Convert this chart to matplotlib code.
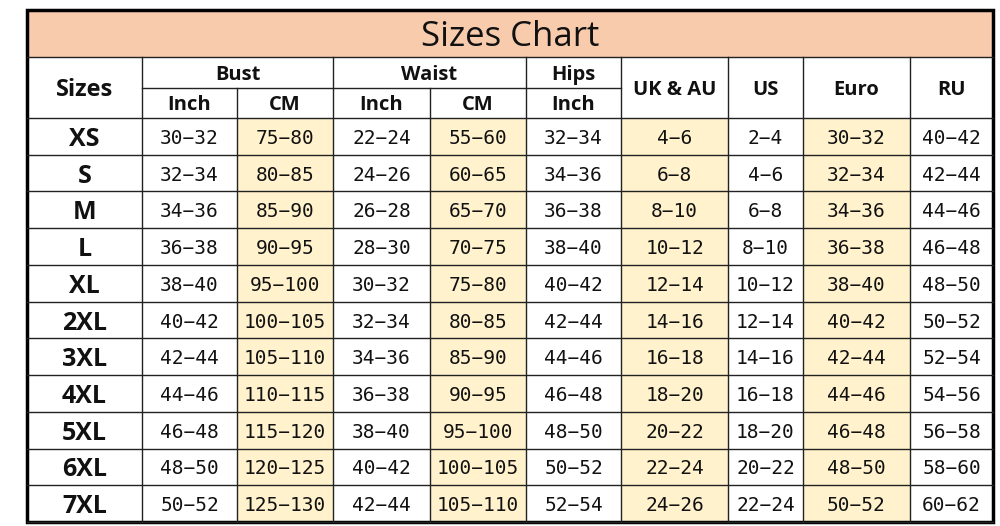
import matplotlib
matplotlib.use("Agg")
import matplotlib.pyplot as plt
from matplotlib.patches import Rectangle

title = "Sizes Chart"
sizes = ["XS", "S", "M", "L", "XL", "2XL", "3XL", "4XL", "5XL", "6XL", "7XL"]
bust_inch = ["30-32", "32-34", "34-36", "36-38", "38-40", "40-42", "42-44", "44-46", "46-48", "48-50", "50-52"]
bust_cm = ["75-80", "80-85", "85-90", "90-95", "95-100", "100-105", "105-110", "110-115", "115-120", "120-125", "125-130"]
waist_inch = ["22-24", "24-26", "26-28", "28-30", "30-32", "32-34", "34-36", "36-38", "38-40", "40-42", "42-44"]
waist_cm = ["55-60", "60-65", "65-70", "70-75", "75-80", "80-85", "85-90", "90-95", "95-100", "100-105", "105-110"]
hips_inch = ["32-34", "34-36", "36-38", "38-40", "40-42", "42-44", "44-46", "46-48", "48-50", "50-52", "52-54"]
uk_au = ["4-6", "6-8", "8-10", "10-12", "12-14", "14-16", "16-18", "18-20", "20-22", "22-24", "24-26"]
us = ["2-4", "4-6", "6-8", "8-10", "10-12", "12-14", "14-16", "16-18", "18-20", "20-22", "22-24"]
euro = ["30-32", "32-34", "34-36", "36-38", "38-40", "40-42", "42-44", "44-46", "46-48", "48-50", "50-52"]
ru = ["40-42", "42-44", "44-46", "46-48", "48-50", "50-52", "52-54", "54-56", "56-58", "58-60", "60-62"]

cols = [bust_inch, bust_cm, waist_inch, waist_cm, hips_inch, uk_au, us, euro, ru]
shaded = [False, True, False, True, False, True, False, True, False]

xs = [27, 142, 237, 333, 430, 526, 621, 728, 803, 910, 993]
y_top, y_title, y_h1, y_h2, y_bot = 10, 57, 88, 118, 522
rh = (y_bot - y_h2) / len(sizes)

fig = plt.figure(figsize=(10, 5.26), dpi=100)
ax = fig.add_axes([0, 0, 1, 1])
ax.set_xlim(0, 1000); ax.set_ylim(526, 0); ax.axis("off")

ax.add_patch(Rectangle((xs[0], y_top), xs[-1]-xs[0], y_title-y_top, fc="#F8CBAD", ec="none"))
for j, sh in enumerate(shaded):
    if sh:
        ax.add_patch(Rectangle((xs[j+1], y_h2), xs[j+2]-xs[j+1], y_bot-y_h2, fc="#FFF2CC", ec="none"))

lc = "#222222"
def hl(y, x0, x1): ax.plot([x0, x1], [y, y], color=lc, lw=1)
def vl(x, y0, y1): ax.plot([x, x], [y0, y1], color=lc, lw=1)
hl(y_title, xs[0], xs[-1])
hl(y_h1, xs[1], xs[6])
for i in range(len(sizes)+1):
    hl(y_h2 + i*rh, xs[0], xs[-1])
for k, x in enumerate(xs[1:-1], start=1):
    top = y_h1 if k in (2, 4) else y_title
    vl(x, top, y_bot)
ax.add_patch(Rectangle((xs[0], y_top), xs[-1]-xs[0], y_bot-y_top, fc="none", ec="black", lw=2.5))

hf = dict(fontfamily="Open Sans", fontweight="bold", ha="center", va="center_baseline", color="#111111")
ax.text((xs[0]+xs[-1])/2, (y_top+y_title)/2, title, fontfamily="Open Sans", fontsize=25, ha="center", va="center_baseline", color="#111111")
ax.text((xs[0]+xs[1])/2, (y_title+y_h2)/2, "Sizes", fontsize=17, **hf)
for name, a, b in [("Bust", 1, 3), ("Waist", 3, 5), ("Hips", 5, 6)]:
    ax.text((xs[a]+xs[b])/2, (y_title+y_h1)/2, name, fontsize=14.5, **hf)
for k, name in zip(range(1, 6), ["Inch", "CM", "Inch", "CM", "Inch"]):
    ax.text((xs[k]+xs[k+1])/2, (y_h1+y_h2)/2, name, fontsize=14.5, **hf)
for k, name in zip(range(6, 10), ["UK & AU", "US", "Euro", "RU"]):
    ax.text((xs[k]+xs[k+1])/2, (y_title+y_h2)/2, name, fontsize=14.5, **hf)

for i, s in enumerate(sizes):
    yc = y_h2 + (i+0.5)*rh
    ax.text((xs[0]+xs[1])/2, yc, s, fontsize=18, **hf)
    for j, col in enumerate(cols):
        ax.text((xs[j+1]+xs[j+2])/2, yc, col[i].replace("-", "\u2212"), fontsize=14,
                fontfamily="DejaVu Sans Mono", ha="center", va="center_baseline", color="#111111")

fig.savefig("out.png", dpi=100)
